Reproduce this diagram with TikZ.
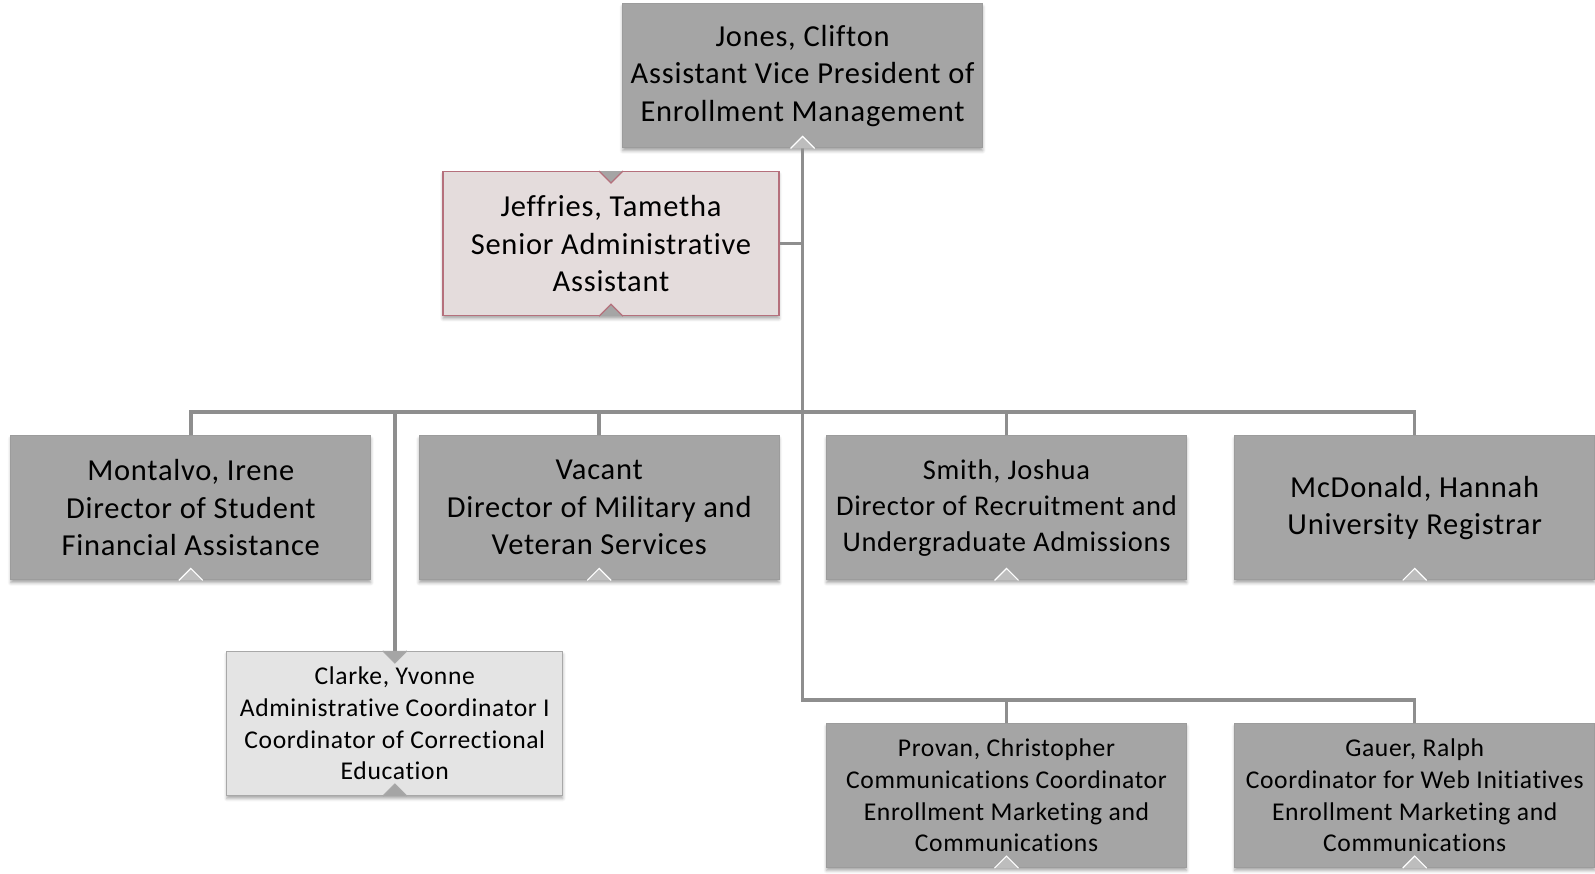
\documentclass[tikz,border=0pt]{standalone}
\usepackage{fontspec}
\setmainfont{Carlito}[Ligatures={NoCommon}, LetterSpace=2.5]
\usetikzlibrary{shadows.blur}
\definecolor{boxgray}{HTML}{A5A5A5}
\definecolor{boxedge}{HTML}{9C9C9C}
\definecolor{linegray}{HTML}{8E8E8E}
\definecolor{pinkfill}{HTML}{E4DCDC}
\definecolor{pinkedge}{HTML}{B5707C}
\definecolor{lightfill}{HTML}{E4E4E4}
\definecolor{lightedge}{HTML}{A8A8A8}
\definecolor{notchfill}{HTML}{BDBDBD}
\tikzset{
  orgbox/.style={rectangle, draw=boxedge, fill=boxgray, line width=1.2pt,
    minimum width=360pt, minimum height=144pt, align=center, inner sep=2pt,
    blur shadow={shadow xshift=0pt, shadow yshift=-3pt, shadow blur radius=3pt, shadow opacity=35}},
  bigtxt/.style={font=\fontsize{30.5}{37.5}\selectfont},
  midtxt/.style={font=\fontsize{28.5}{36.2}\selectfont},
  smalltxt/.style={font=\fontsize{25.6}{31.7}\selectfont},
  pinkbox/.style={orgbox, fill=pinkfill, draw=pinkedge, minimum width=336pt},
  lightbox/.style={orgbox, fill=lightfill, draw=lightedge, minimum width=336pt},
  conn/.style={draw=linegray, line width=3.5pt},
  notch/.style={fill=notchfill, draw=white, line width=1.2pt},
  notchdark/.style={fill=boxgray, line width=1.2pt},
}
\begin{document}
\begin{tikzpicture}[x=1pt, y=-1pt]
\useasboundingbox (0,0) rectangle (1595,873);

\node[orgbox, bigtxt] (top) at (802.6,75.8) {Jones, Clifton\\Assistant Vice President of\\Enrollment Management};
\node[pinkbox, bigtxt] (jeff) at (611,243.6) {Jeffries, Tametha\\Senior Administrative\\Assistant};
\node[orgbox, bigtxt] (mont) at (190.8,507.8) {Montalvo, Irene\\Director of Student\\Financial Assistance};
\node[orgbox, bigtxt] (vac) at (599.2,507.8) {Vacant\\Director of Military and\\Veteran Services};
\node[orgbox, midtxt] (smith) at (1006.5,507.8) {Smith, Joshua\\Director of Recruitment and\\Undergraduate Admissions};
\node[orgbox, bigtxt] (mcd) at (1414.7,507.8) {McDonald, Hannah\\University Registrar};
\node[lightbox, smalltxt] (clarke) at (394.8,723.5) {Clarke, Yvonne\\Administrative Coordinator I\\Coordinator of Correctional\\Education};
\node[orgbox, smalltxt] (provan) at (1006.5,795.5) {Provan, Christopher\\Communications Coordinator\\Enrollment Marketing and\\Communications};
\node[orgbox, smalltxt] (gauer) at (1414.7,795.5) {Gauer, Ralph\\Coordinator for Web Initiatives\\Enrollment Marketing and\\Communications};

\coordinate (busA) at (0,412);
\coordinate (busB) at (0,700);

\draw[conn] (top.south) -- (top.south |- busB) -- (gauer.north |- busB) -- (gauer.north);
\draw[conn] (provan.north) -- (provan.north |- busB);
\draw[conn] (jeff.east) -- (top.south |- jeff.east);
\draw[conn] (mont.north) -- (mont.north |- busA) -- (mcd.north |- busA) -- (mcd.north);
\draw[conn] (vac.north) -- (vac.north |- busA);
\draw[conn] (smith.north) -- (smith.north |- busA);
\draw[conn] (clarke.north |- busA) -- (clarke.north);

\foreach \n in {top,mont,vac,smith,mcd,provan,gauer}{
  \filldraw[notch] ([xshift=-12pt]\n.south) -- ([yshift=12pt]\n.south) -- ([xshift=12pt]\n.south);
}
\filldraw[notchdark, draw=pinkedge] ([xshift=-12pt]jeff.south) -- ([yshift=12pt]jeff.south) -- ([xshift=12pt]jeff.south);
\filldraw[notchdark, draw=pinkedge] ([xshift=-12pt]jeff.north) -- ([yshift=-12pt]jeff.north) -- ([xshift=12pt]jeff.north);
\filldraw[notchdark, draw=lightedge] ([xshift=-12pt]clarke.south) -- ([yshift=12pt]clarke.south) -- ([xshift=12pt]clarke.south);
\filldraw[notchdark, draw=lightedge] ([xshift=-12pt]clarke.north) -- ([yshift=-12pt]clarke.north) -- ([xshift=12pt]clarke.north);
\end{tikzpicture}
\end{document}
